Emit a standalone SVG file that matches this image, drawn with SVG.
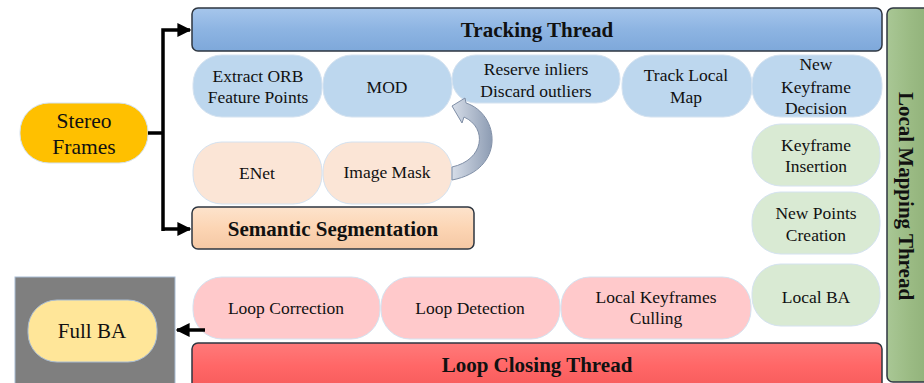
<svg xmlns="http://www.w3.org/2000/svg" width="924" height="383" viewBox="0 0 924 383">
<defs>
<linearGradient id="gBlue" x1="0" y1="0" x2="0" y2="1"><stop offset="0" stop-color="#a6c6ec"/><stop offset="0.5" stop-color="#8db4e2"/><stop offset="1" stop-color="#7ea8da"/></linearGradient>
<linearGradient id="gPeach" x1="0" y1="0" x2="0" y2="1"><stop offset="0" stop-color="#fde3cc"/><stop offset="0.5" stop-color="#fcd5b4"/><stop offset="1" stop-color="#f5c8a4"/></linearGradient>
<linearGradient id="gRed" x1="0" y1="0" x2="0" y2="1"><stop offset="0" stop-color="#ff7a7a"/><stop offset="0.5" stop-color="#ff6666"/><stop offset="1" stop-color="#f55a5a"/></linearGradient>
<linearGradient id="gGreen" x1="0" y1="0" x2="1" y2="0"><stop offset="0" stop-color="#a9c795"/><stop offset="0.5" stop-color="#9bbb84"/><stop offset="1" stop-color="#8fb078"/></linearGradient>
<linearGradient id="gArc" x1="0" y1="0" x2="1" y2="0"><stop offset="0" stop-color="#d6dde8"/><stop offset="1" stop-color="#8d9cb3"/></linearGradient>
<marker id="ah" viewBox="0 0 10 10" refX="9" refY="5" markerWidth="4" markerHeight="4" orient="auto" markerUnits="strokeWidth"><path d="M0,0 L10,5 L0,10 z" fill="#000"/></marker>
</defs>
<style>
.t{font-family:"Liberation Serif","Times New Roman",serif;fill:#111;text-anchor:middle}
.n{font-size:17.5px}
.b{font-size:21px;font-weight:bold}
.bar{stroke:#2e3640;stroke-width:1.5}
.nb{fill:#bdd7ee;stroke:#d4e2f0;stroke-width:1}
.np{fill:#fbe5d6;stroke:#d4e2f0;stroke-width:1}
.ng{fill:#d9ead3;stroke:#d4e2f0;stroke-width:1}
.nr{fill:#ffc9cb;stroke:#d4e2f0;stroke-width:1}
.c{fill:none;stroke:#000;stroke-width:3.5}
</style>
<rect width="924" height="383" fill="#fff"/>

<g id="fullba-box"><rect x="15" y="277" width="160" height="110" fill="#7f7f7f" stroke="#a8bcd4" stroke-width="1"/></g>

<g id="tracking-thread"><rect class="bar" x="192" y="8" width="690" height="43" rx="6" fill="url(#gBlue)"/><text class="t b" x="537" y="37">Tracking Thread</text></g>
<g id="local-mapping-thread"><rect class="bar" x="887" y="8" width="45" height="374" rx="6" fill="url(#gGreen)"/><text class="t b" transform="translate(899,196) rotate(90)">Local Mapping Thread</text></g>
<g id="semantic-segmentation"><rect class="bar" x="192" y="207" width="282" height="42" rx="6" fill="url(#gPeach)"/><text class="t b" x="333" y="236">Semantic Segmentation</text></g>
<g id="loop-closing-thread"><rect class="bar" x="192" y="343" width="690" height="48" rx="6" fill="url(#gRed)"/><text class="t b" x="537" y="372">Loop Closing Thread</text></g>

<g id="stereo-frames"><rect x="20" y="103" width="128" height="60" rx="29" fill="#ffc000" stroke="#d4e2f0"/><text class="t" style="font-size:21.5px" x="84" y="128">Stereo</text><text class="t" style="font-size:21.5px" x="84" y="154">Frames</text></g>

<g id="extract-orb"><rect class="nb" x="193" y="55" width="129" height="62" rx="29"/><text class="t n" x="258" y="82">Extract ORB</text><text class="t n" x="258" y="103">Feature Points</text></g>
<g id="mod"><rect class="nb" x="323" y="55" width="129" height="62" rx="29"/><text class="t n" x="387" y="93">MOD</text></g>
<g id="reserve-inliers"><rect class="nb" x="452" y="55" width="168" height="48" rx="24"/><text class="t n" x="536" y="75">Reserve inliers</text><text class="t n" x="536" y="97">Discard outliers</text></g>
<g id="track-local-map"><rect class="nb" x="622" y="55" width="130" height="62" rx="29"/><text class="t n" x="686" y="81">Track Local</text><text class="t n" x="686" y="103">Map</text></g>
<g id="new-keyframe-decision"><rect class="nb" x="752" y="55" width="130" height="62" rx="29"/><text class="t n" x="816" y="70">New</text><text class="t n" x="816" y="93">Keyframe</text><text class="t n" x="816" y="114">Decision</text></g>

<g id="keyframe-insertion"><rect class="ng" x="752" y="124" width="128" height="62" rx="29"/><text class="t n" x="816" y="151">Keyframe</text><text class="t n" x="816" y="172">Insertion</text></g>
<g id="new-points-creation"><rect class="ng" x="752" y="192" width="128" height="62" rx="29"/><text class="t n" x="816" y="219">New Points</text><text class="t n" x="816" y="241">Creation</text></g>
<g id="local-ba"><rect class="ng" x="752" y="264" width="128" height="62" rx="29"/><text class="t n" x="816" y="303">Local BA</text></g>

<g id="enet"><rect class="np" x="193" y="142" width="129" height="62" rx="29"/><text class="t n" x="257" y="179">ENet</text></g>
<g id="image-mask"><rect class="np" x="323" y="142" width="129" height="62" rx="29"/><text class="t n" x="387" y="178">Image Mask</text></g>

<g id="loop-correction"><rect class="nr" x="193" y="277" width="187" height="62" rx="29"/><text class="t n" x="286" y="314">Loop Correction</text></g>
<g id="loop-detection"><rect class="nr" x="381" y="277" width="179" height="62" rx="29"/><text class="t n" x="470" y="314">Loop Detection</text></g>
<g id="local-keyframes-culling"><rect class="nr" x="561" y="277" width="190" height="62" rx="29"/><text class="t n" x="656" y="303">Local Keyframes</text><text class="t n" x="656" y="324">Culling</text></g>

<g id="full-ba"><rect x="28" y="300" width="129" height="62" rx="29" fill="#ffe699" stroke="#a8bcd4"/><text class="t" style="font-size:21px" x="92" y="338">Full BA</text></g>

<g id="connectors">
<path class="c" d="M148,133 H163"/>
<path class="c" d="M163,231 V30 H190" marker-end="url(#ah)"/>
<path class="c" d="M163,229 H190" marker-end="url(#ah)"/>
<path class="c" d="M205,330 H177" marker-end="url(#ah)"/>
<path d="M452,106 L465,98 L466,103 C500,114 506,170 452,180 L452,167 C484,160 488,128 464,117 L462,123 Z" fill="url(#gArc)" stroke="#7f8ea6" stroke-width="1"/>
</g>
</svg>
